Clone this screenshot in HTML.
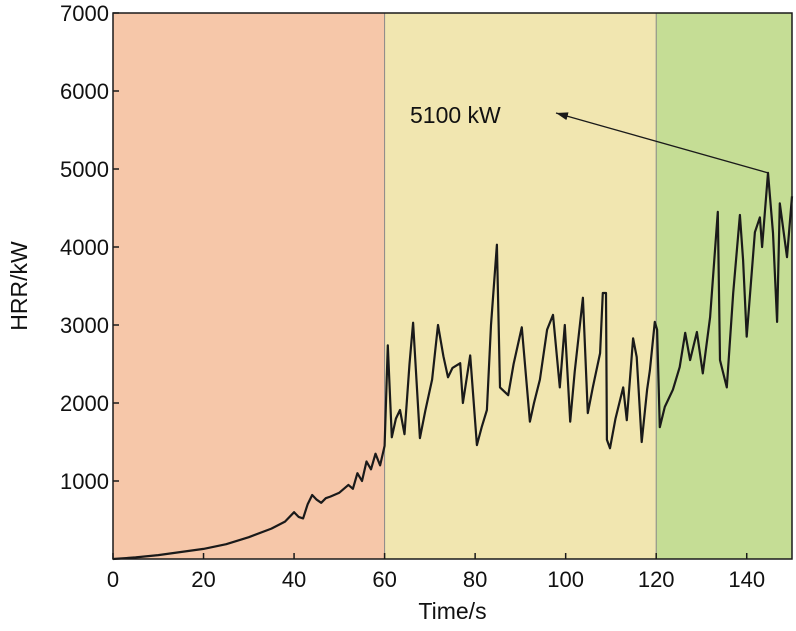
<!DOCTYPE html>
<html><head><meta charset="utf-8"><style>
body{margin:0;background:#fff}
svg text{font-family:"Liberation Sans",Arial,sans-serif;fill:#111}
</style></head><body>
<svg id="chart" width="796" height="626"></svg>
<script>
const times=[0,5,10,15,20,25,30,35,38,40,41,42,43,44,45,46,47,48,50,52,53,54,55,56,57,58,59,60,
60.7,61.6,62.5,63.4,64.4,65.5,66.3,67.8,69,70.5,71.8,73,74,75,76.7,77.3,78.9,80.4,81.5,82.6,83.5,84.8,85.5,87.3,88.5,90.3,92.1,93,94.3,95.9,97.2,98.7,99.8,101,102,103.8,104.9,106,107.6,108.2,108.9,109.1,109.8,111,112.7,113.5,114.9,115.7,116.8,118,118.6,119.7,
120.2,120.8,121.9,123.7,125.2,126.4,127.5,129,130.3,131.9,133.6,134.1,135.6,137,138.5,139.2,140,141.8,142.9,143.4,144.7,145.8,146.7,147.3,148.9,150];
const hrr=[0,20,50,90,130,190,280,390,480,600,540,520,700,820,760,720,780,800,850,950,900,1100,1000,1250,1150,1350,1200,1450,
2740,1560,1800,1910,1600,2500,3030,1550,1900,2300,3000,2600,2330,2450,2510,2000,2610,1460,1700,1910,3000,4030,2200,2100,2500,2970,1760,2000,2300,2940,3130,2200,3000,1760,2400,3350,1870,2200,2640,3410,3410,1530,1420,1800,2200,1780,2830,2590,1500,2170,2420,3040,
2940,1690,1950,2170,2460,2900,2550,2910,2380,3100,4450,2550,2200,3410,4410,3830,2850,4190,4380,4000,4950,4180,3040,4560,3870,4650];
const xTicks=[0,20,40,60,80,100,120,140];
const yTicks=[1000,2000,3000,4000,5000,6000,7000];
const phases=[[0,60,'#f6c7a9','phase-growth'],[60,120,'#f1e6b0','phase-fluctuation'],[120,150,'#c5dd95','phase-peak']];
const X0=113,X1=792,Y0=559,Y1=13;
const sx=t=>X0+(t-0)/(150)*(X1-X0);
const sy=v=>Y0-(v/7000)*(Y0-Y1);
const svg=document.getElementById('chart');const NS='http://www.w3.org/2000/svg';
function mk(tag,attrs,parent){const e=document.createElementNS(NS,tag);for(const k in attrs)e.setAttribute(k,attrs[k]);(parent||svg).appendChild(e);return e;}
phases.forEach(p=>{const r=mk('rect',{x:sx(p[0]),y:Y1,width:sx(p[1])-sx(p[0]),height:Y0-Y1,fill:p[2]});

});
[60,120].forEach(t=>{const l=mk('line',{x1:sx(t),x2:sx(t),y1:Y1,y2:Y0,stroke:'#888','stroke-width':1});

});
const pts=times.map((t,i)=>sx(t).toFixed(1)+','+sy(hrr[i]).toFixed(1)).join(' ');
const line=mk('polyline',{points:pts,fill:'none',stroke:'#1a1a1a','stroke-width':2.2,'stroke-linejoin':'round'});


const frame=mk('rect',{x:X0,y:Y1,width:X1-X0,height:Y0-Y1,fill:'none',stroke:'#1a1a1a','stroke-width':1.5});


xTicks.forEach(t=>{mk('line',{x1:sx(t),x2:sx(t),y1:Y0,y2:Y0-6,stroke:'#1a1a1a','stroke-width':1.5});
const tx=mk('text',{x:sx(t),y:Y0+28,'text-anchor':'middle','font-size':22});tx.textContent=t;

});
yTicks.forEach(v=>{mk('line',{x1:X0,x2:X0+6,y1:sy(v),y2:sy(v),stroke:'#1a1a1a','stroke-width':1.5});
const tx=mk('text',{x:X0-4,y:sy(v)+8,'text-anchor':'end','font-size':22});tx.textContent=v;

});
const xl=mk('text',{x:(X0+X1)/2,y:619,'text-anchor':'middle','font-size':23});xl.textContent='Time/s';


const yl=mk('text',{x:0,y:0,'text-anchor':'middle','font-size':23,transform:'translate(27,286) rotate(-90)'});yl.textContent='HRR/kW';


const defs=mk('defs',{});const mkr=mk('marker',{id:'ah',markerWidth:14,markerHeight:8,refX:12,refY:4,orient:'auto',markerUnits:'userSpaceOnUse'},defs);
mk('path',{d:'M0,0 L12,4 L0,8 Z',fill:'#1a1a1a'},mkr);
const arr=mk('line',{x1:sx(144.7),y1:sy(4950),x2:556,y2:113,stroke:'#1a1a1a','stroke-width':1.3,'marker-end':'url(#ah)'});


const an=mk('text',{x:410,y:123,'font-size':23});an.textContent='5100 kW';


</script>
</body></html>
